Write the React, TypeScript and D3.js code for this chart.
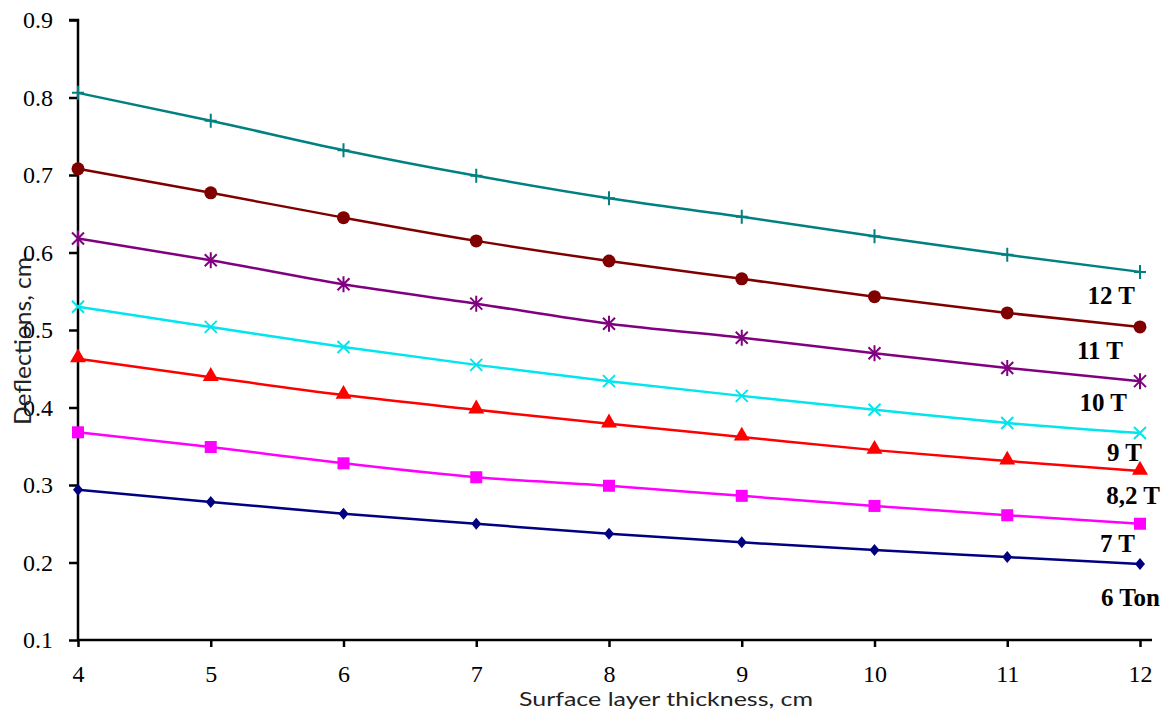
import * as d3 from "d3";
import { useEffect, useRef } from "react";

const thickness = [4, 5, 6, 7, 8, 9, 10, 11, 12];
const seriesNames = ["12 T", "11 T", "10 T", "9 T", "8,2 T", "7 T", "6 Ton"];
const t12 = [0.806, 0.77, 0.732, 0.699, 0.67, 0.646, 0.621, 0.597, 0.575];
const t11 = [0.708, 0.677, 0.645, 0.615, 0.589, 0.566, 0.543, 0.522, 0.504];
const t10 = [0.618, 0.59, 0.559, 0.534, 0.508, 0.49, 0.47, 0.451, 0.434];
const t9 = [0.53, 0.504, 0.478, 0.455, 0.434, 0.415, 0.397, 0.38, 0.367];
const t82 = [0.463, 0.439, 0.416, 0.397, 0.379, 0.362, 0.345, 0.331, 0.318];
const t7 = [0.368, 0.349, 0.328, 0.31, 0.299, 0.286, 0.273, 0.261, 0.25];
const t6 = [0.294, 0.278, 0.263, 0.25, 0.237, 0.226, 0.216, 0.207, 0.198];
const yTicks = [0.1, 0.2, 0.3, 0.4, 0.5, 0.6, 0.7, 0.8, 0.9];

const allValues = [t12, t11, t10, t9, t82, t7, t6];
const colors = ["#008080", "#800000", "#800080", "#00e5ee", "#ff0000", "#ff00ff", "#000080"];
const markers = ["plus", "circle", "star", "cross", "triangle", "square", "diamond"];
// label offset from last point: [right edge x offset, y offset]
const labelOffsets = [[-5, 23], [-17, 23], [-13, 21], [2, 19], [20, 24], [-5, 19], [20, 33]];

const serif = "'Liberation Serif', 'Times New Roman', serif";
const sans = "Lato, 'Liberation Sans', sans-serif";

const App = () => {
  const svgRef = useRef<SVGSVGElement>(null);
  useEffect(() => {
    if (!svgRef.current) return;
    const svg = d3.select(svgRef.current);
    svg.selectAll("*").remove();
    const width = 1170;
    const height = 718;

    const x = d3.scaleLinear().domain([4, 12]).range([78, 1140]);
    const y = d3.scaleLinear().domain([0.1, 0.9]).range([640, 20]);

    // axes
    const yAxis = svg
      .append("g")
      .attr("transform", "translate(78,0)")
      .call(d3.axisLeft(y).tickValues(yTicks).tickSize(9).tickPadding(16).tickFormat(d3.format(".1f")));
    const xAxis = svg
      .append("g")
      .attr("transform", "translate(0,640)")
      .call(d3.axisBottom(x).ticks(8).tickSize(7).tickPadding(18).tickFormat(d3.format("d")));
    [yAxis, xAxis].forEach((g) => {
      g.attr("font-family", serif).attr("font-size", 24);
      g.select(".domain").attr("stroke", "#000").attr("stroke-width", 2.5);
      g.selectAll(".tick line").attr("stroke", "#000").attr("stroke-width", 2.5);
      g.selectAll(".tick text").attr("fill", "#000").attr("font-family", serif).attr("font-size", 24);
    });
    yAxis.selectAll(".domain").attr("d", "M0,640V20H-9");
    xAxis.selectAll(".domain").attr("d", "M78,0H1152");

    const line = d3
      .line<number>()
      .x((_, i) => x(thickness[i]))
      .y((d) => y(d))
      .curve(d3.curveMonotoneX);

    allValues.forEach((vals, s) => {
      const c = colors[s];
      svg
        .append("path")
        .attr("d", line(vals)!)
        .attr("fill", "none")
        .attr("stroke", c)
        .attr("stroke-width", 2.5);

      const g = svg.append("g");
      vals.forEach((v, i) => {
        const px = x(thickness[i]);
        const py = y(v);
        const m = markers[s];
        if (m === "circle") {
          g.append("circle").attr("cx", px).attr("cy", py).attr("r", 6.5).attr("fill", c);
        } else if (m === "square") {
          g.append("rect").attr("x", px - 6).attr("y", py - 6).attr("width", 12).attr("height", 12).attr("fill", c);
        } else if (m === "triangle") {
          g.append("path").attr("d", d3.symbol(d3.symbolTriangle, 110)()!).attr("transform", `translate(${px},${py - 1})`).attr("fill", c);
        } else if (m === "diamond") {
          g.append("path").attr("d", `M${px},${py - 6}L${px + 5},${py}L${px},${py + 6}L${px - 5},${py}Z`).attr("fill", c);
        } else if (m === "plus") {
          g.append("path").attr("d", `M${px - 6},${py}H${px + 6}M${px},${py - 7}V${py + 7}`).attr("stroke", c).attr("stroke-width", 2);
        } else if (m === "cross") {
          g.append("path").attr("d", `M${px - 6},${py - 6}L${px + 6},${py + 6}M${px - 6},${py + 6}L${px + 6},${py - 6}`).attr("stroke", c).attr("stroke-width", 2);
        } else if (m === "star") {
          g.append("path")
            .attr("d", `M${px - 6},${py - 6}L${px + 6},${py + 6}M${px - 6},${py + 6}L${px + 6},${py - 6}M${px},${py - 8}V${py + 8}`)
            .attr("stroke", c)
            .attr("stroke-width", 2);
        }
      });

      const last = vals[vals.length - 1];
      svg
        .append("text")
        .attr("x", x(12) + labelOffsets[s][0])
        .attr("y", y(last) + labelOffsets[s][1])
        .attr("dy", "0.35em")
        .attr("text-anchor", "end")
        .attr("font-family", serif)
        .attr("font-size", 25)
        .attr("font-weight", "bold")
        .text(seriesNames[s]);
    });

    svg
      .append("text")
      .attr("x", 519)
      .attr("y", 706)
      .attr("textLength", 294)
      .attr("lengthAdjust", "spacingAndGlyphs")
      .attr("font-family", sans)
      .attr("font-size", 20)
      .attr("fill", "#222")
      .text("Surface layer thickness, cm");

    svg
      .append("text")
      .attr("transform", "translate(31,425) rotate(-90)")
      .attr("textLength", 168)
      .attr("lengthAdjust", "spacingAndGlyphs")
      .attr("font-family", sans)
      .attr("font-size", 24)
      .attr("fill", "#222")
      .text("Deflections, cm");

    svg.attr("width", width).attr("height", height).attr("viewBox", `0 0 ${width} ${height}`);
  }, []);
  return <svg ref={svgRef} style={{ position: "absolute", left: 0, top: 0, background: "#fff" }}></svg>;
};

export default App;
